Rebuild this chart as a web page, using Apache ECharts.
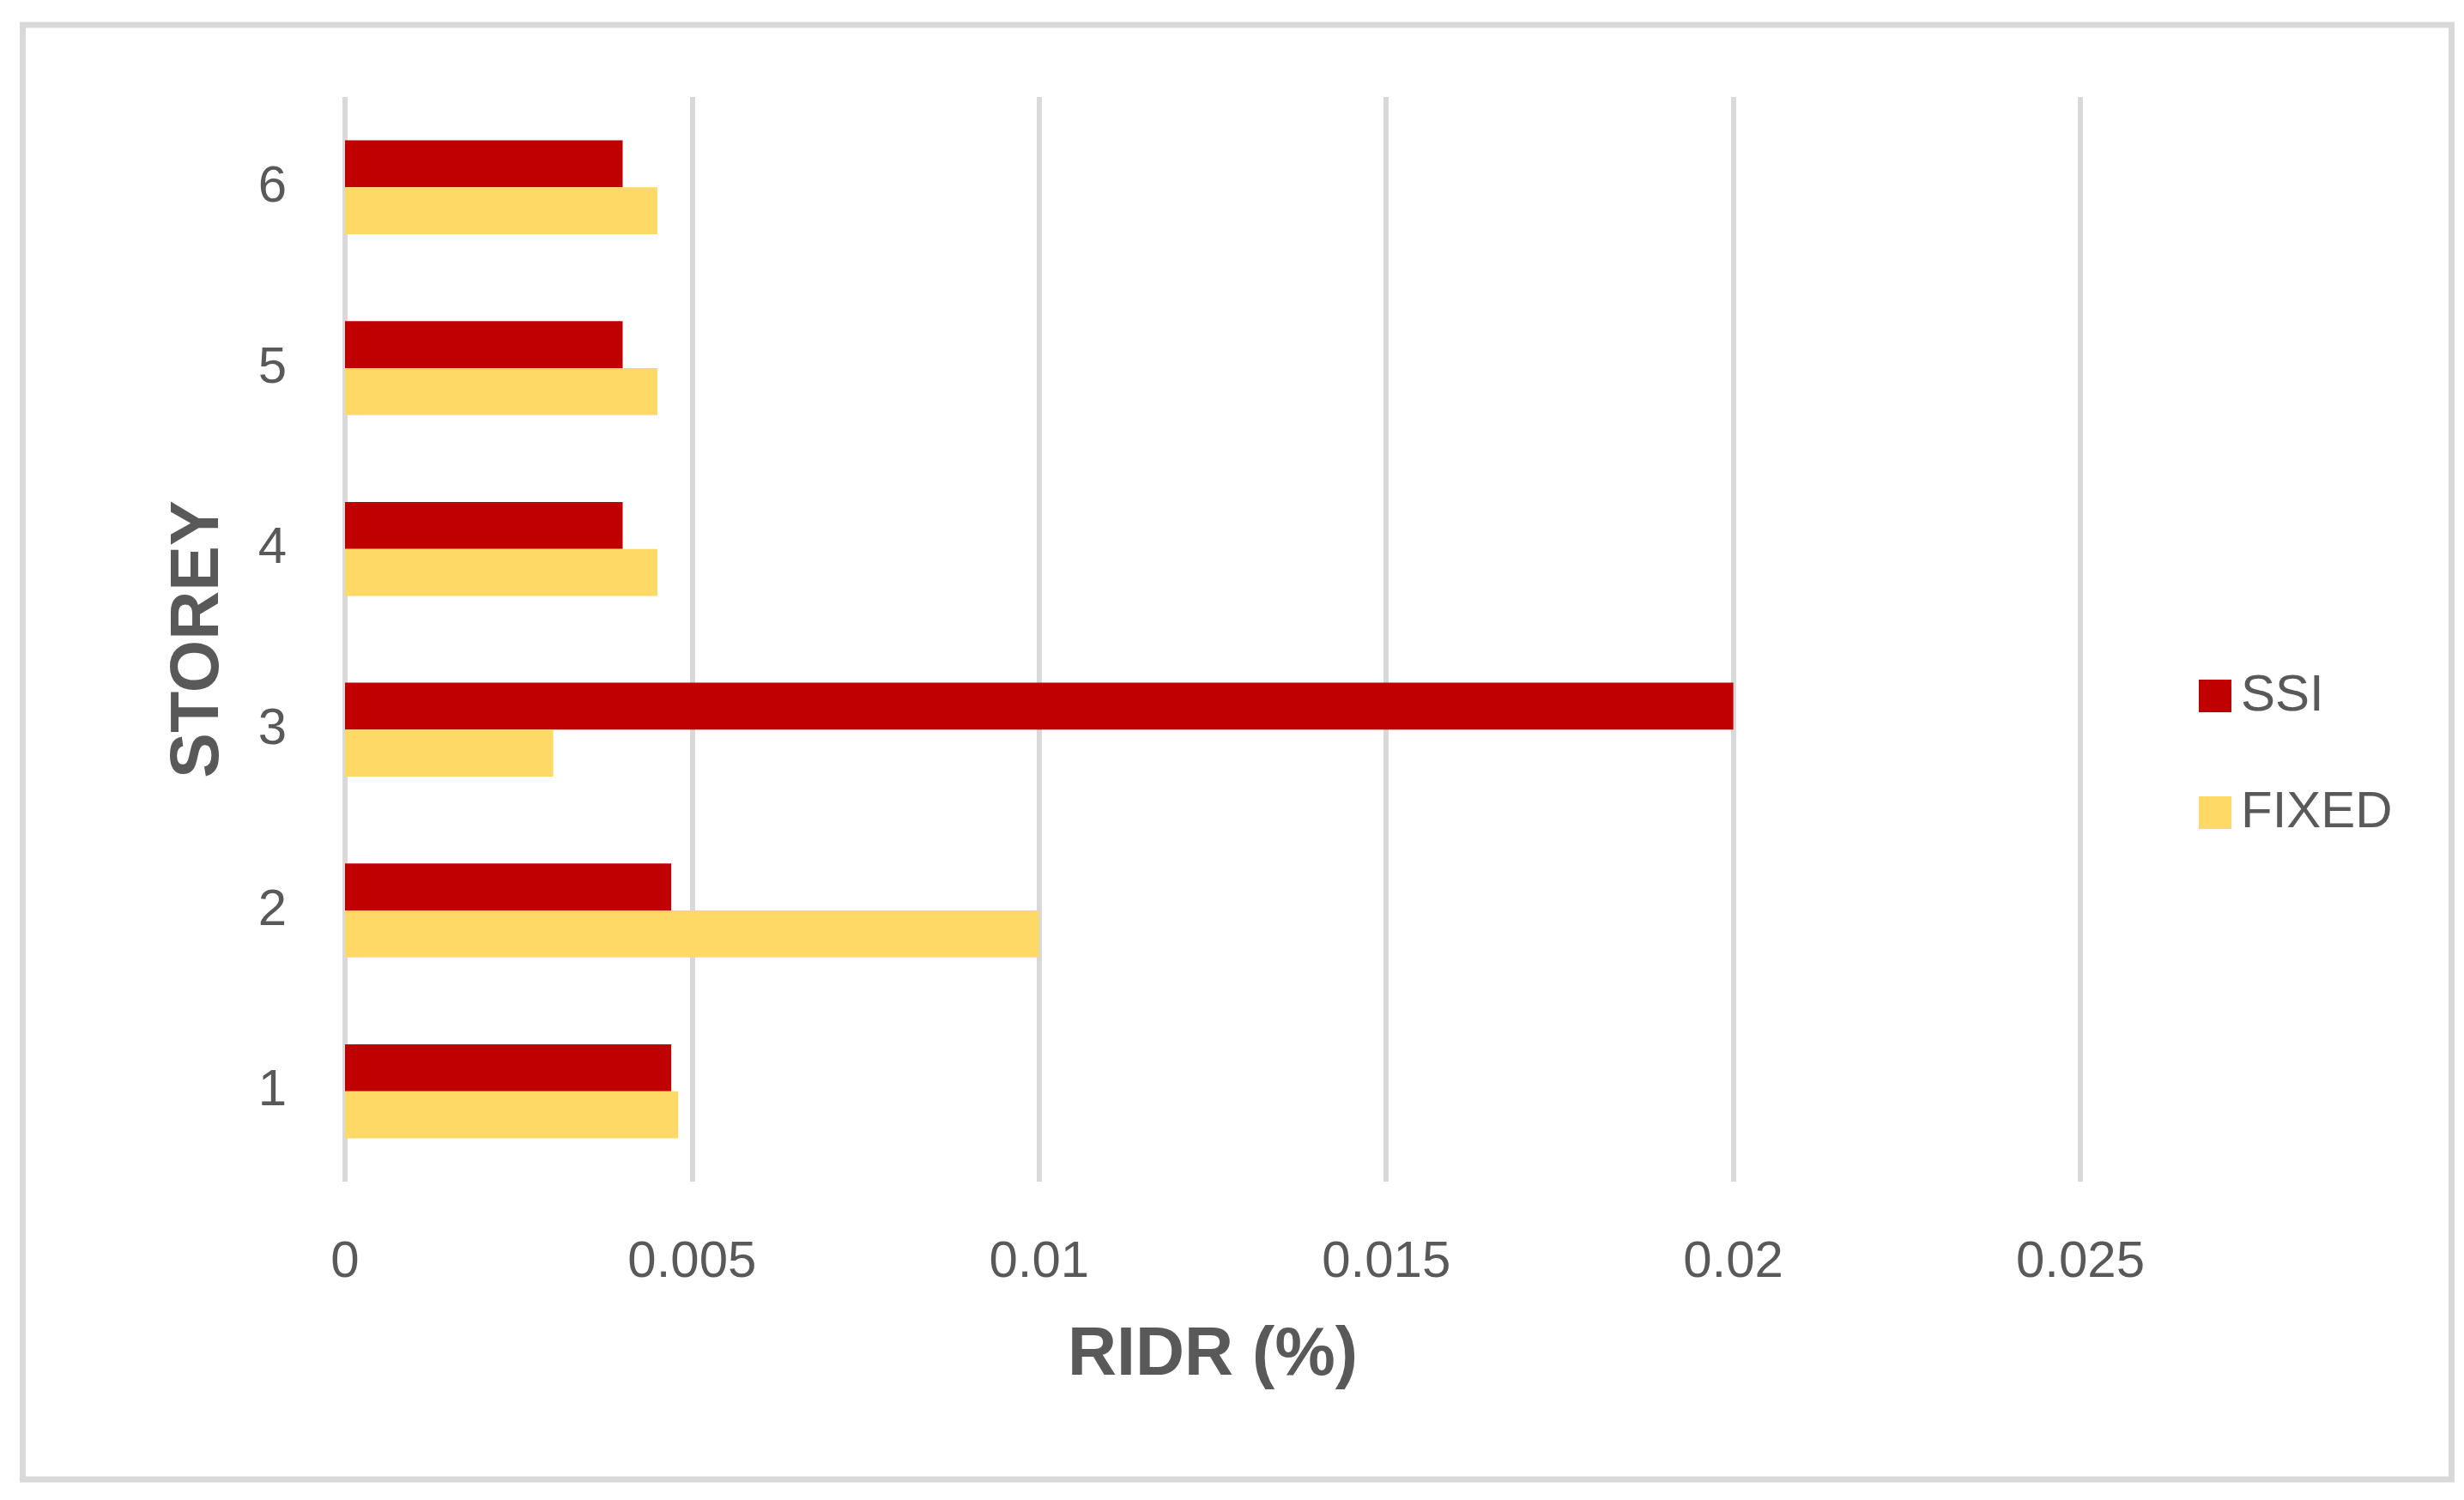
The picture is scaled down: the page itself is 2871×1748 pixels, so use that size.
<!DOCTYPE html>
<html>
<head>
<meta charset="utf-8">
<script src="https://cdn.jsdelivr.net/npm/echarts@6/dist/echarts.min.js"></script>
<style>
  html, body { margin: 0; padding: 0; background: #fff; }
  #chart { width: 2871px; height: 1748px; }
</style>
</head>
<body>
<div id="chart"></div>
<script>
// storey drift chart
const storeys = ["1", "2", "3", "4", "5", "6"];
const ssiValues = [0.0047, 0.0047, 0.02, 0.004, 0.004, 0.004];
const fixedValues = [0.0048, 0.01, 0.003, 0.0045, 0.0045, 0.0045];
const xTicks = [0, 0.005, 0.01, 0.015, 0.02, 0.025];

const textColor = "#595959";
const font = "Liberation Sans";

const chart = echarts.init(document.getElementById("chart"));

const options = {
  backgroundColor: "#fff",
  animation: false,
  textStyle: { fontFamily: font, color: textColor },
  graphic: [
    {
      type: "rect",
      shape: { x: 26.5, y: 29, width: 2830, height: 1695 },
      style: { fill: "none", stroke: "#D9D9D9", lineWidth: 7 }
    }
  ],
  grid: {
    left: 402,
    top: 113,
    width: 2022,
    height: 1264
  },
  legend: {
    orient: "vertical",
    left: 2557,
    top: 776,
    itemWidth: 38,
    itemHeight: 38,
    itemGap: 76,
    icon: "rect",
    data: ["SSI", "FIXED"],
    textStyle: {
      fontFamily: font,
      fontSize: 60,
      color: textColor,
      lineHeight: 38,
      padding: [0, 0, 0, 6]
    }
  },
  xAxis: {
    type: "value",
    min: xTicks[0],
    max: xTicks[xTicks.length - 1],
    interval: 0.005,
    name: "RIDR (%)",
    nameLocation: "middle",
    nameGap: 164,
    nameTextStyle: { fontFamily: font, fontSize: 79, fontWeight: "bold", color: textColor },
    axisLine: { show: false },
    axisTick: { show: false },
    axisLabel: { fontFamily: font, fontSize: 60, color: textColor, margin: 64 },
    splitLine: { show: true, lineStyle: { color: "#D9D9D9", width: 6 } }
  },
  yAxis: {
    type: "category",
    data: storeys,
    name: "STOREY",
    nameLocation: "middle",
    nameGap: 130,
    nameTextStyle: { fontFamily: font, fontSize: 79, fontWeight: "bold", color: textColor },
    axisLine: { show: false },
    axisTick: { show: false },
    axisLabel: { fontFamily: font, fontSize: 60, color: textColor, margin: 68 },
    splitLine: { show: false }
  },
  series: [
    {
      name: "SSI",
      type: "bar",
      data: ssiValues,
      barGap: "0%",
      barCategoryGap: "48%",
      itemStyle: { color: "#C00000" }
    },
    {
      name: "FIXED",
      type: "bar",
      data: fixedValues,
      barGap: "0%",
      barCategoryGap: "48%",
      itemStyle: { color: "#FFD966" }
    }
  ]
};

chart.setOption(options);

window.addEventListener("resize", () => {
  chart.resize();
});
</script>
</body>
</html>
